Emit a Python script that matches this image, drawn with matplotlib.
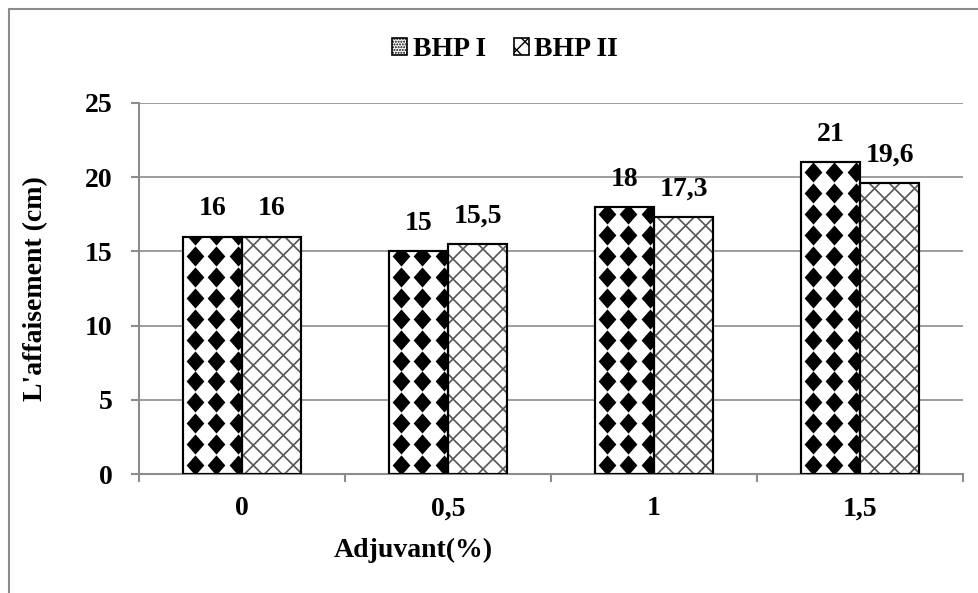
import numpy as np
import matplotlib
matplotlib.use("Agg")
import matplotlib.pyplot as plt
from matplotlib.patches import Rectangle, Patch
from matplotlib.collections import LineCollection

categories = ["0", "0,5", "1", "1,5"]
bhp1 = [16, 15, 18, 21]
bhp2 = [16, 15.5, 17.3, 19.6]
labels1 = ["16", "15", "18", "21"]
labels2 = ["16", "15,5", "17,3", "19,6"]
series_names = ["BHP I", "BHP II"]
yticks = [0, 5, 10, 15, 20, 25]

plt.rcParams['font.family'] = ['Liberation Serif', 'DejaVu Serif']
plt.rcParams['font.weight'] = 'bold'
plt.rcParams['hatch.color'] = '#555555'
plt.rcParams['hatch.linewidth'] = 1.0

fig = plt.figure(figsize=(9.79, 5.93), dpi=100)
ax = fig.add_axes([139 / 979, 1 - 474 / 593, (963 - 139) / 979, (474 - 103) / 593])

x = np.arange(len(categories))
w = 0.287
grey = '#8c8c8c'

ax.set_ylim(0, 25)
ax.set_xlim(-0.5, len(categories) - 0.5)
ax.set_yticks(yticks)
ax.yaxis.grid(True, color=grey, lw=1.2)
ax.set_axisbelow(True)

bars1 = ax.bar(x - w / 2, bhp1, w, facecolor='white', edgecolor='black', lw=1.5, zorder=2)
bars2 = ax.bar(x + w / 2, bhp2, w, facecolor='white', edgecolor='black', lw=1.5, zorder=2)

px_x = 206.0                # pixels per category unit
px_y = (474 - 103) / 25     # pixels per cm

# diamond texture inside BHP I bars (pattern spacing ~21 px)
dx = 21.5 / px_x
dy = 20.9 / px_y
y0 = 9 / px_y
diamond = [(-0.88, 0), (0, 1), (0.88, 0), (0, -1), (-0.88, 0)]
for b in bars1:
    left, h = b.get_x(), b.get_height()
    xs = np.arange(left + 0.55 * dx, left + w + dx, dx)
    ys = np.arange(y0, h + dy, dy)
    gx, gy = np.meshgrid(xs, ys)
    pts, = ax.plot(gx.ravel(), gy.ravel(), ls='none', marker=diamond,
                   markersize=14.5, color='black', mec='none', zorder=2.5)
    pts.set_clip_path(b)
    ax.add_patch(Rectangle((left, 0), w, h, fill=False, edgecolor='black', lw=1.5, zorder=3))

# cross hatch inside BHP II bars (~20 px spacing, 45 deg on screen)
hs = 20 / px_x
slope = px_x / px_y
for b in bars2:
    left, h = b.get_x(), b.get_height()
    span = h / slope
    segs = []
    for x0 in np.arange(left - span - hs, left + w + hs, hs):
        segs.append([(x0, 0), (x0 + span, h)])
    for x0 in np.arange(left - hs, left + w + span + hs, hs):
        segs.append([(x0, 0), (x0 - span, h)])
    lc = LineCollection(segs, colors='#555555', linewidths=1.2, zorder=2.5)
    ax.add_collection(lc)
    lc.set_clip_path(b)
    ax.add_patch(Rectangle((left, 0), w, h, fill=False, edgecolor='black', lw=1.5, zorder=3))

for b, t in zip(bars1, labels1):
    ax.annotate(t, (b.get_x() + w / 2, b.get_height()), xytext=(0, 11),
                textcoords='offset points', ha='center', va='bottom',
                fontsize=20, fontweight='bold')
for b, t in zip(bars2, labels2):
    ax.annotate(t, (b.get_x() + w / 2, b.get_height()), xytext=(0, 11),
                textcoords='offset points', ha='center', va='bottom',
                fontsize=20, fontweight='bold')

for s in ['top', 'right']:
    ax.spines[s].set_visible(False)
for s in ['left', 'bottom']:
    ax.spines[s].set_color(grey)
    ax.spines[s].set_linewidth(1.5)

ax.set_xticks(x)
ax.set_xticklabels(categories)
ax.set_xticks(np.arange(-0.5, len(categories)), minor=True)
ax.tick_params(axis='x', which='major', length=0, pad=16, labelsize=20)
ax.tick_params(axis='x', which='minor', length=6, color=grey, width=1.5)
ax.tick_params(axis='y', length=6, color=grey, width=1.5, pad=13, labelsize=20)

ax.set_ylabel("L'affaisement (cm)", fontsize=20, fontweight='bold')
ax.yaxis.set_label_coords(-0.11, 0.5)
ax.set_xlabel("Adjuvant(%)", fontsize=20, fontweight='bold')
ax.xaxis.set_label_coords((413 - 139) / 824, -0.172)

handles = [Patch(facecolor='white', edgecolor='black', hatch='......', lw=1.2),
           Patch(facecolor='white', edgecolor='black', hatch='xx', lw=1.2)]
fig.legend(handles, series_names, loc='center', bbox_to_anchor=(505 / 979, 1 - 50 / 593),
           ncol=2, frameon=False, handlelength=0.55, handleheight=0.55,
           handletextpad=0.2, columnspacing=1.0, prop={'weight': 'bold', 'size': 20})

fig.add_artist(Rectangle((9 / 979, -0.1), 1.0, (593 - 9) / 593 + 0.1,
                         transform=fig.transFigure, fill=False, edgecolor=grey, lw=1.5))

fig.savefig("out.png", dpi=100)
